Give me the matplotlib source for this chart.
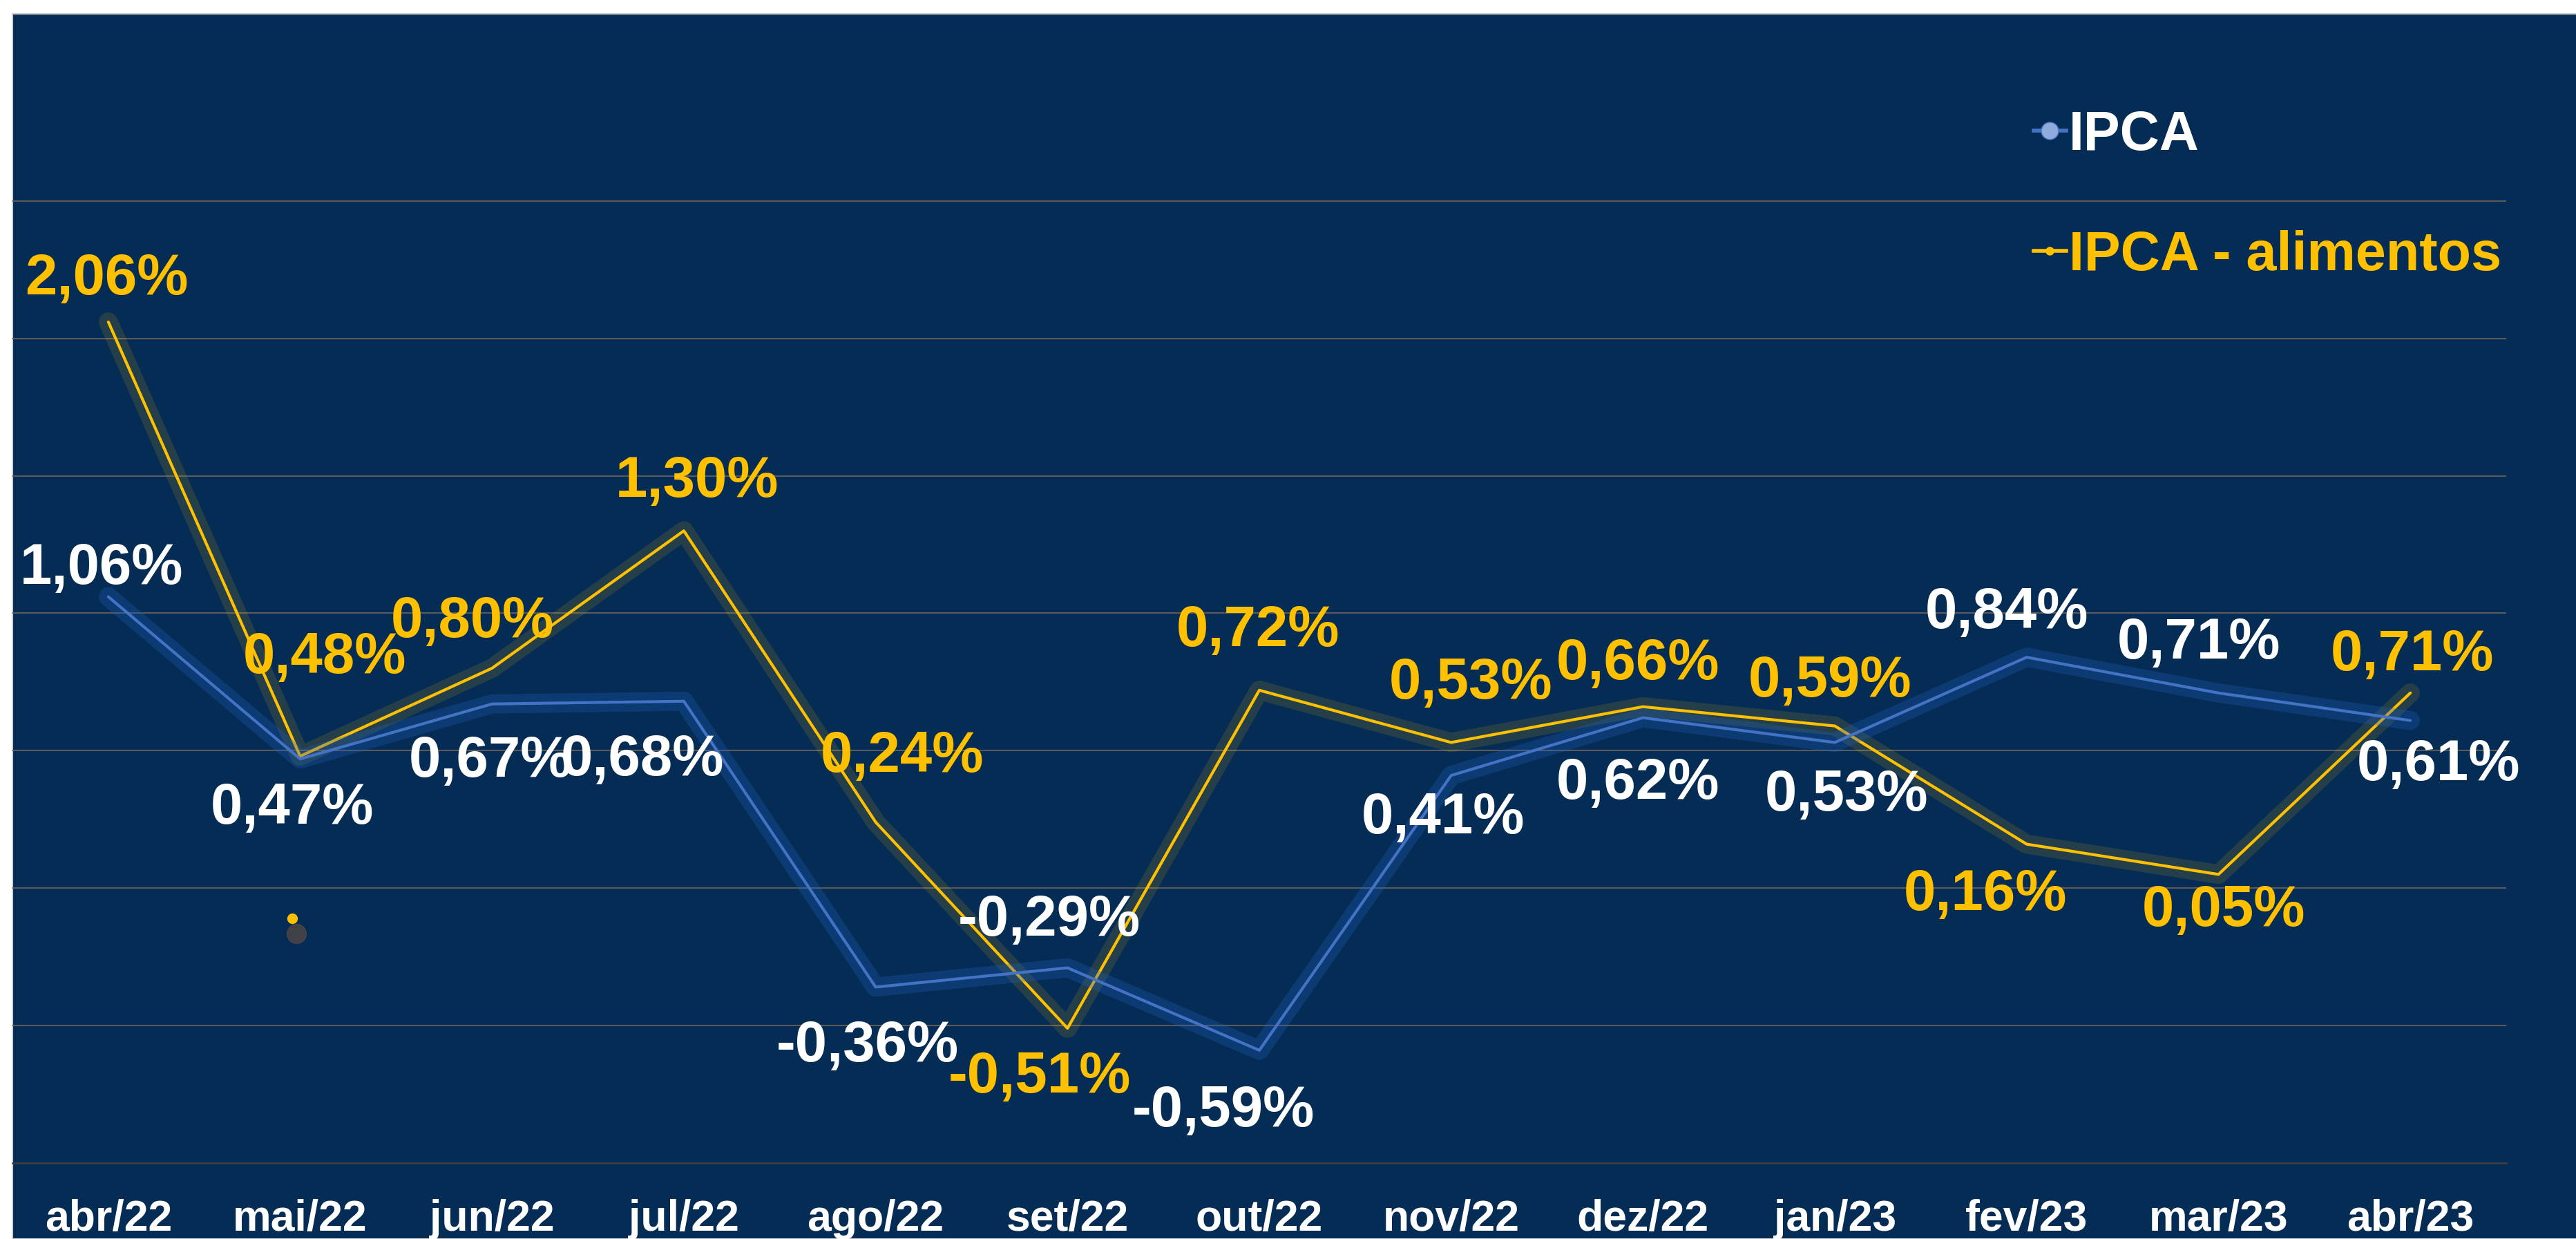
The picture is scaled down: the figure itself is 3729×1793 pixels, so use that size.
import matplotlib
matplotlib.use("Agg")
import matplotlib.pyplot as plt
import matplotlib.patheffects as pe
from matplotlib.lines import Line2D
from matplotlib.patches import Rectangle

plt.rcParams['font.family'] = ['Liberation Sans', 'DejaVu Sans']
plt.rcParams['font.weight'] = 'bold'

# data
meses = ['abr/22', 'mai/22', 'jun/22', 'jul/22', 'ago/22', 'set/22', 'out/22',
         'nov/22', 'dez/22', 'jan/23', 'fev/23', 'mar/23', 'abr/23']
ipca = [1.06, 0.47, 0.67, 0.68, -0.36, -0.29, -0.59, 0.41, 0.62, 0.53, 0.84, 0.71, 0.61]
ipca_alimentos = [2.06, 0.48, 0.80, 1.30, 0.24, -0.51, 0.72, 0.53, 0.66, 0.59, 0.16, 0.05, 0.71]
stray_point = (0.96, -0.11)   # loose marker left in the original slide

# label offsets (pixels, relative to each point)
k = 2.378
off_ipca = [(-4, 17), (-5, -30), (-1, -35), (-25, -36), (-5, -36), (-11, 29), (-22, -37),
            (-5, -26), (-3, -40), (7, -32), (-12, 27), (-12, 30), (17, -27)]
off_alim = [(-1, 26), (15, 60), (-12, 28), (8, 30), (16, 40), (-17, -30), (-1, 36),
            (12, 36), (-3, 26), (-3, 27), (-25, -31), (3, -22), (1, 23)]

bg = '#042c54'
blue = '#4472c4'
gold = '#ffc000'

W, H = 3729, 1793
fig = plt.figure(figsize=(W / 100, H / 100), dpi=100, facecolor='white')
fig.patches.append(Rectangle((18 / W, 0), 1, 1 - 20 / H, transform=fig.transFigure,
                             facecolor=bg, edgecolor='#d0d0d0', linewidth=1.5, zorder=-10))

ax = fig.add_axes([18 / W, 1 - 1683 / H, (3628 - 18) / W, (1683 - 20) / H])
ax.set_facecolor('none')

x = list(range(len(meses)))

glow_gold = [pe.Stroke(linewidth=20, foreground=gold, alpha=0.13), pe.Normal()]
glow_blue = [pe.Stroke(linewidth=20, foreground='#1f5fc0', alpha=0.3), pe.Normal()]

ax.plot(x, ipca_alimentos, color=gold, lw=3.0, solid_capstyle='round',
        path_effects=glow_gold, zorder=3)
ax.plot(x, ipca, color=blue, lw=3.0, solid_capstyle='round',
        path_effects=glow_blue, zorder=4)

ax.plot(stray_point[0] + 0.02, stray_point[1] - 0.055, 'o', color='#5a4a44',
        ms=20, alpha=0.7, zorder=3)
ax.plot(*stray_point, 'o', color=gold, ms=10, zorder=4)

fmt = lambda v: f'{v:.2f}%'.replace('.', ',')
for i, v in enumerate(ipca):
    dx, dy = off_ipca[i]
    ax.annotate(fmt(v), (i, v), xytext=(dx * k, dy * k), textcoords='offset pixels',
                ha='center', va='center', color='white', fontsize=60,
                fontweight='bold', zorder=6)
for i, v in enumerate(ipca_alimentos):
    dx, dy = off_alim[i]
    ax.annotate(fmt(v), (i, v), xytext=(dx * k, dy * k), textcoords='offset pixels',
                ha='center', va='center', color=gold, fontsize=60,
                fontweight='bold', zorder=6)

ax.set_xlim(-0.5, 12.5)
ax.set_ylim(-1, (1286 - 20) / 398)
ax.set_yticks([-0.5, 0, 0.5, 1.0, 1.5, 2.0, 2.5])
ax.yaxis.grid(True, color='#5a5a5a', lw=1.5)
ax.set_axisbelow(True)
ax.tick_params(axis='y', left=False, labelleft=False)
ax.set_xticks(x)
ax.set_xticklabels(meses, color='white', fontsize=45, fontweight='bold')
ax.tick_params(axis='x', bottom=False, pad=34)
for s in ['top', 'left', 'right']:
    ax.spines[s].set_visible(False)
ax.spines['bottom'].set_color('#404040')
ax.spines['bottom'].set_linewidth(1.8)

handles = [
    Line2D([0], [0], color=blue, lw=4, marker='o', ms=18,
           markerfacecolor='#8faadc', markeredgecolor=blue),
    Line2D([0], [0], color=gold, lw=4, marker='o', ms=8,
           markerfacecolor=gold, markeredgecolor=gold),
]
leg = fig.legend(handles, ['IPCA', 'IPCA - alimentos'], loc='upper left',
                 bbox_to_anchor=(2912 / W, 1 - 127 / H), frameon=False,
                 fontsize=57, handlelength=0.6, handletextpad=0.05,
                 labelspacing=1.25, borderaxespad=0)
for t, c in zip(leg.get_texts(), ['white', gold]):
    t.set_color(c)
    t.set_fontweight('bold')

fig.savefig('out.png', dpi=100, facecolor='white')
